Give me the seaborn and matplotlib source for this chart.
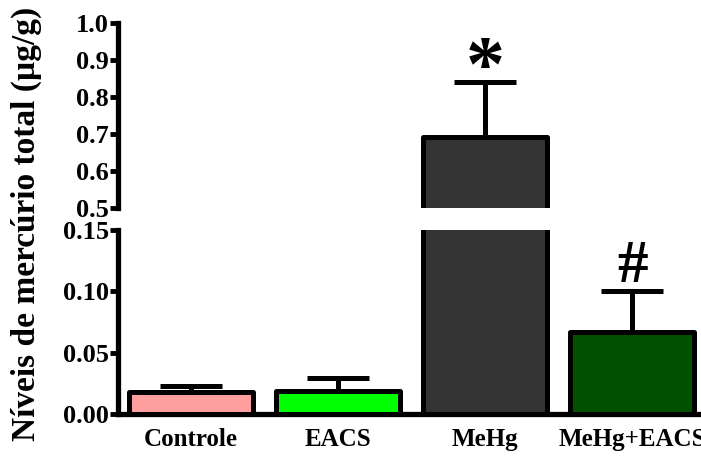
import numpy as np
import pandas as pd
import matplotlib
matplotlib.use("Agg")
import matplotlib.pyplot as plt
import seaborn as sns

# Group data: mean total mercury and upper SEM
groups = ["Controle", "EACS", "MeHg", "MeHg+EACS"]
means = [0.018, 0.019, 0.693, 0.067]
sems = [0.005, 0.0105, 0.149, 0.033]
colors = ["#FF9E9E", "#00FF00", "#333333", "#005000"]
marks = ["", "", "*", "#"]

top_ticks = [0.5, 0.6, 0.7, 0.8, 0.9, 1.0]
bottom_ticks = [0.00, 0.05, 0.10, 0.15]

df = pd.DataFrame({"grupo": groups, "hg": means})

sns.set_theme(style="white")
plt.rcParams["font.family"] = ["Liberation Serif", "DejaVu Serif"]
plt.rcParams["font.weight"] = "bold"
for key in ("text.color", "axes.labelcolor", "xtick.color", "ytick.color"):
    plt.rcParams[key] = "black"

fig = plt.figure(figsize=(7.01, 4.57), dpi=100)
left, width = 0.168, 0.832
ax_top = fig.add_axes([left, 0.5438, width, 0.4049])
ax_bot = fig.add_axes([left, 0.0941, width, 0.4026])

lw = 3.6
for ax in (ax_top, ax_bot):
    sns.barplot(data=df, x="grupo", y="hg", hue="grupo", palette=colors,
                order=groups, hue_order=groups, width=0.845, legend=False,
                edgecolor="black", linewidth=lw, errorbar=None, ax=ax,
                saturation=1)
    for p in ax.patches:
        p.set_joinstyle("round")
        p.set_zorder(3)
    x = np.arange(len(groups))
    ax.errorbar(x, means, yerr=[np.zeros(len(groups)), sems], fmt="none",
                ecolor="black", elinewidth=lw, capsize=22, capthick=lw,
                zorder=2)
    ax.set_xlim(-0.497, 3.469)
    ax.set_xlabel("")
    ax.set_ylabel("")
    for s in ("top", "right"):
        ax.spines[s].set_visible(False)
    ax.spines["left"].set_linewidth(3.8)
    ax.spines["left"].set_color("black")
    ax.tick_params(axis="y", which="major", length=6, width=3.5,
                   color="black", labelcolor="black", direction="out",
                   labelsize=19, pad=0.5, left=True)

ax_top.set_ylim(0.5, 1.0)
ax_top.set_yticks(top_ticks)
ax_top.set_yticklabels([f"{t:.1f}" for t in top_ticks])
ax_top.spines["bottom"].set_visible(False)
ax_top.set_xticks([])

ax_bot.set_ylim(0.0, 0.15)
ax_bot.set_yticks(bottom_ticks)
ax_bot.set_yticklabels([f"{t:.2f}" for t in bottom_ticks])
ax_bot.spines["bottom"].set_linewidth(3.8)
ax_bot.spines["bottom"].set_color("black")
ax_bot.set_xticks(range(len(groups)))
ax_bot.set_xticklabels(groups)
ax_bot.tick_params(axis="x", length=0, labelsize=18, labelcolor="black",
                   pad=10)
for lab in ax_bot.get_xticklabels() + ax_bot.get_yticklabels() + ax_top.get_yticklabels():
    lab.set_fontweight("bold")

# Significance markers above the error bars
ax_top.text(2, means[2] + sems[2] + 0.03, marks[2], ha="center",
            va="center", fontsize=56, fontweight="bold", color="black")
ax_bot.text(3, means[3] + sems[3] + 0.02, marks[3], ha="center",
            va="center", fontsize=44, fontweight="bold", color="black")

fig.text(0.038, 0.51, "Níveis de mercúrio total (µg/g)", rotation=90,
         ha="center", va="center", fontsize=24, fontweight="bold",
         color="black")

fig.savefig("out.png", dpi=100)
